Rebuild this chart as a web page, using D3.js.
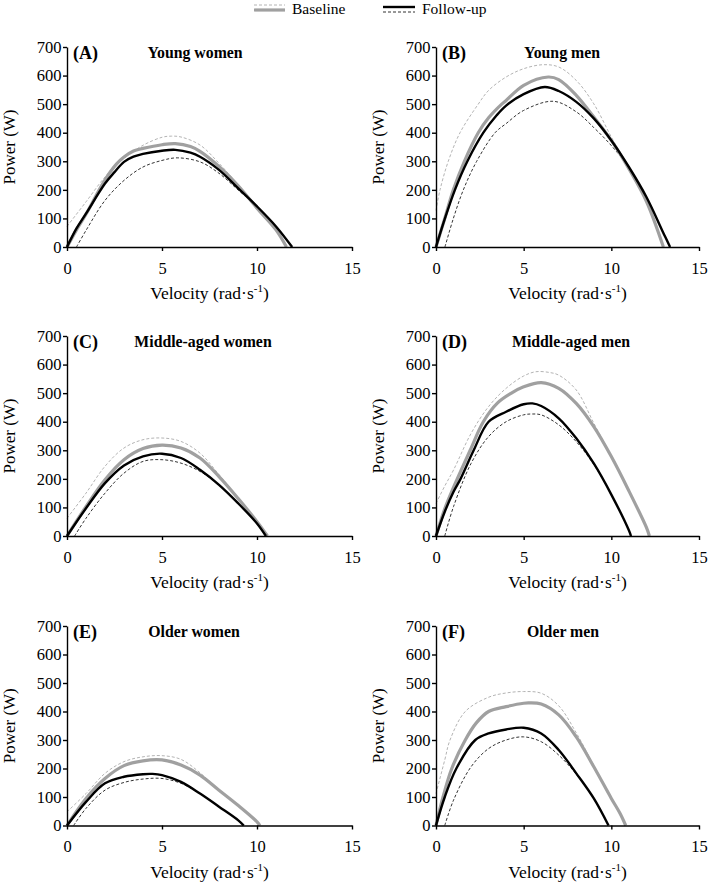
<!DOCTYPE html>
<html><head><meta charset="utf-8">
<script src="https://cdn.jsdelivr.net/npm/d3@7"></script>
<style>
body{margin:0;background:#fff}
svg{display:block}
</style>
</head><body>
<svg id="chart" width="709" height="882"></svg>
<script>
// ---------- data ----------
const panelLetters = ["(A)","(B)","(C)","(D)","(E)","(F)"];
const panelTitles = ["Young women","Young men","Middle-aged women","Middle-aged men","Older women","Older men"];
const xTicks = [0,5,10,15];
const yTicks = [0,100,200,300,400,500,600,700];
const legendLabels = ["Baseline","Follow-up"];

// [velocity rad/s, power W]
const baseA   = [[0,0],[0.5,60],[1,115],[2,235],[2.6,290],[3,315],[3.5,336],[4,345],[5,358],[5.7,362],[6.5,352],[7,335],[8,282],[9,215],[10,136],[11,60],[11.55,0]];
const baseUpA = [[0,72],[1,158],[2,245],[3,310],[4,356],[5,384],[5.5,388],[6,385],[7,357],[8,293],[9,218],[10,138],[11,60],[11.55,0]];
const follA   = [[0,0],[0.5,65],[1,117],[2,222],[2.5,262],[3,298],[3.5,316],[4,326],[5,337],[5.7,340],[6.5,330],[7,316],[8,270],[9,206],[10,142],[11,72],[11.85,0]];
const follLoA = [[0.5,0],[1,58],[2,163],[3,233],[4,280],[5,303],[5.8,312],[7,298],[8,258],[9,200],[10,140],[11,70],[11.85,0]];

const baseB   = [[0,0],[0.5,100],[0.99,200],[1.62,300],[2.41,400],[3,452],[3.75,500],[4,513],[5,566],[6.4,595],[7,586],[8,531],[9,455],[10,373],[11,274],[12,160],[12.97,0]];
const baseUpB = [[0,128],[0.23,200],[0.7,300],[1.37,400],[2.41,500],[3,548],[4,595],[5,624],[6.1,638],[7,630],[8,583],[9,501],[10,385],[11,276],[12,160],[12.97,0]];
const follB   = [[0,0],[0.51,100],[1.08,200],[1.79,300],[2.7,400],[3.46,461],[4,495],[5,535],[6.2,560],[7,546],[8,508],[9,450],[10,373],[11,280],[12,175],[13,45],[13.35,0]];
const follLoB = [[0.51,0],[0.99,100],[1.56,200],[2.32,300],[3.37,400],[4,432],[5,478],[6.7,510],[8,473],[9,418],[10,355],[11,278],[12,175],[13,45],[13.35,0]];

const baseC   = [[0,0],[1,103],[2,197],[3,267],[4,306],[5,318],[6,308],[7,273],[8,208],[9,132],[10,50],[10.55,0]];
const baseUpC = [[0,62],[1,150],[2,244],[3,308],[4,337],[5,343],[6,331],[7,290],[8,215],[9,134],[10,50],[10.55,0]];
const follC   = [[0,0],[1,97],[2,185],[3,247],[4,279],[5,288],[6,273],[7,232],[8,179],[9,115],[10,44],[10.47,0]];
const follLoC = [[0.4,0],[1,62],[2,150],[3,220],[4,261],[5,267],[6,255],[7,226],[8,179],[9,115],[10,44],[10.47,0]];

const baseD   = [[0,0],[0.5,95],[1,170],[1.95,300],[2.7,400],[3.5,465],[4.3,500],[5,522],[6,537],[7,517],[8,464],[9,383],[10,278],[11,158],[12,30],[12.17,0]];
const baseUpD = [[0,114],[0.5,175],[1,231],[2,359],[3,453],[4,517],[5,560],[5.7,575],[6.5,572],[7,563],[8,511],[9,395],[10,278],[11,158],[12,30],[12.17,0]];
const follD   = [[0,0],[0.5,85],[1,155],[1.4,200],[2.15,300],[3,400],[4,435],[5,461],[5.5,464],[6,455],[7,412],[8,342],[9,254],[10,145],[11,20],[11.12,0]];
const follLoD = [[0.5,0],[1,103],[2,254],[3,348],[4,400],[5,424],[5.5,427],[6,424],[7,389],[8,330],[9,250],[10,145],[11,20],[11.12,0]];

const baseE   = [[0,0],[1,95],[2,165],[3,210],[4,227],[5,230],[6,212],[7,177],[8,124],[9,71],[10,13],[10.15,0]];
const baseUpE = [[0,48],[1,112],[2,183],[3,224],[4,241],[5,245],[6,232],[7,185],[8,124],[9,71],[10,13],[10.15,0]];
const follE   = [[0,0],[1,83],[2,148],[3,171],[4,180],[4.5,181],[5,177],[6,153],[7,112],[8,66],[9,19],[9.3,0]];
const follLoE = [[0.35,0],[1,60],[2,124],[3,151],[4,163],[5,165],[6,148],[7,112],[8,66],[9,19],[9.3,0]];

const baseF   = [[0,0],[0.4,100],[0.9,200],[1.67,300],[2.3,360],[3,400],[4,417],[5,429],[5.3,430],[6,426],[7,388],[8,311],[9,206],[10,95],[10.5,42],[10.82,0]];
const baseUpF = [[0,112],[0.5,230],[0.8,300],[1.67,400],[3,450],[4,465],[5,470],[6,464],[7,420],[8,325],[9,210],[10,95],[10.5,42],[10.82,0]];
const follF   = [[0,0],[0.5,100],[1.16,200],[2.24,300],[3,323],[4,337],[5,343],[6,323],[7,265],[8,183],[9,95],[9.84,0]];
const follLoF = [[0.5,0],[1,89],[2,206],[3,270],[4,300],[5,311],[6,294],[7,247],[8,180],[9,95],[9.84,0]];

const baselineMean = [baseA, baseB, baseC, baseD, baseE, baseF];
const baselineUpper = [baseUpA, baseUpB, baseUpC, baseUpD, baseUpE, baseUpF];
const followMean = [follA, follB, follC, follD, follE, follF];
const followLower = [follLoA, follLoB, follLoC, follLoD, follLoE, follLoF];

// ---------- layout ----------
const FONT = "Liberation Serif";
const svg = d3.select("#chart").attr("font-family", FONT);
svg.append("rect").attr("width",709).attr("height",882).attr("fill","#fff");
const cols = [{x0:67,x1:352},{x0:436,x1:699}];
const rows = [{y0:47,y1:247},{y0:336,y1:536},{y0:626,y1:825.5}];
const titleDx = [128,126,136,135,127,127];

const GRAY = "#a0a0a0", GRAY_D = "#b4b4b4", BLACK = "#000", BLACK_D = "#333";

function txt(sel){ return sel.append("text").attr("font-family", FONT).attr("fill","#000"); }

panelTitles.forEach((title,i)=>{
  const c = cols[i%2], r = rows[Math.floor(i/2)];
  const x = d3.scaleLinear().domain([0,15]).range([c.x0,c.x1]);
  const y = d3.scaleLinear().domain([0,700]).range([r.y1,r.y0]);
  const g = svg.append("g");
  const line = d3.line().x(d=>x(d[0])).y(d=>y(d[1])).curve(d3.curveCatmullRom.alpha(0.5));

  g.append("path").attr("d",line(baselineUpper[i])).attr("fill","none")
    .attr("stroke",GRAY_D).attr("stroke-width",1).attr("stroke-dasharray","3,2");
  g.append("path").attr("d",line(followLower[i])).attr("fill","none")
    .attr("stroke",BLACK_D).attr("stroke-width",1).attr("stroke-dasharray","3,2");
  g.append("path").attr("d",line(baselineMean[i])).attr("fill","none")
    .attr("stroke",GRAY).attr("stroke-width",3.2);
  g.append("path").attr("d",line(followMean[i])).attr("fill","none")
    .attr("stroke",BLACK).attr("stroke-width",2.4);

  const ax = g.append("g").attr("transform",`translate(0,${r.y1})`)
    .call(d3.axisBottom(x).tickValues(xTicks).tickSize(4).tickSizeOuter(0).tickPadding(11));
  const ay = g.append("g").attr("transform",`translate(${c.x0},0)`)
    .call(d3.axisLeft(y).tickValues(yTicks).tickSize(4).tickSizeOuter(0).tickPadding(1.5));
  [ax,ay].forEach(a=>{
    a.attr("font-family", FONT).attr("font-size",16.5);
    a.select(".domain").attr("stroke","#000").attr("stroke-width",1.4);
    a.selectAll(".tick line").attr("stroke","#000").attr("stroke-width",1.4);
    a.selectAll(".tick text").attr("font-family", FONT).attr("font-size",16.5).attr("fill","#000");
  });

  // axis titles
  const xt = txt(g).attr("x",(c.x0+c.x1)/2).attr("y",r.y1+52)
    .attr("text-anchor","middle").attr("font-size",17.5);
  xt.append("tspan").text("Velocity (rad\u00b7s");
  xt.append("tspan").text("-1").attr("font-size",11).attr("dy",-7);
  xt.append("tspan").text(")").attr("dy",7);

  txt(g).attr("transform",`translate(${c.x0-51.8},${(r.y0+r.y1)/2}) rotate(-90)`)
    .attr("text-anchor","middle").attr("font-size",17).text("Power (W)");

  // panel labels
  txt(g).attr("x",c.x0+6).attr("y",r.y0+12).attr("font-size",18)
    .attr("font-weight","bold").text(panelLetters[i]);
  txt(g).attr("x",c.x0+titleDx[i]).attr("y",r.y0+11).attr("font-size",15.8)
    .attr("font-weight","bold").attr("text-anchor","middle").text(title);
});

// ---------- legend ----------
const lg = svg.append("g");
lg.append("line").attr("x1",254).attr("x2",285).attr("y1",5).attr("y2",5)
  .attr("stroke",GRAY_D).attr("stroke-width",1).attr("stroke-dasharray","3,2");
lg.append("line").attr("x1",254).attr("x2",285).attr("y1",10).attr("y2",10)
  .attr("stroke",GRAY).attr("stroke-width",3.2);
txt(lg).attr("x",292).attr("y",14).attr("font-size",15.5).text(legendLabels[0]);
lg.append("line").attr("x1",383).attr("x2",415).attr("y1",7).attr("y2",7)
  .attr("stroke",BLACK).attr("stroke-width",2.4);
lg.append("line").attr("x1",383).attr("x2",415).attr("y1",12).attr("y2",12)
  .attr("stroke",BLACK_D).attr("stroke-width",1).attr("stroke-dasharray","3,2");
txt(lg).attr("x",422).attr("y",14).attr("font-size",15.5).text(legendLabels[1]);
</script>
</body></html>
